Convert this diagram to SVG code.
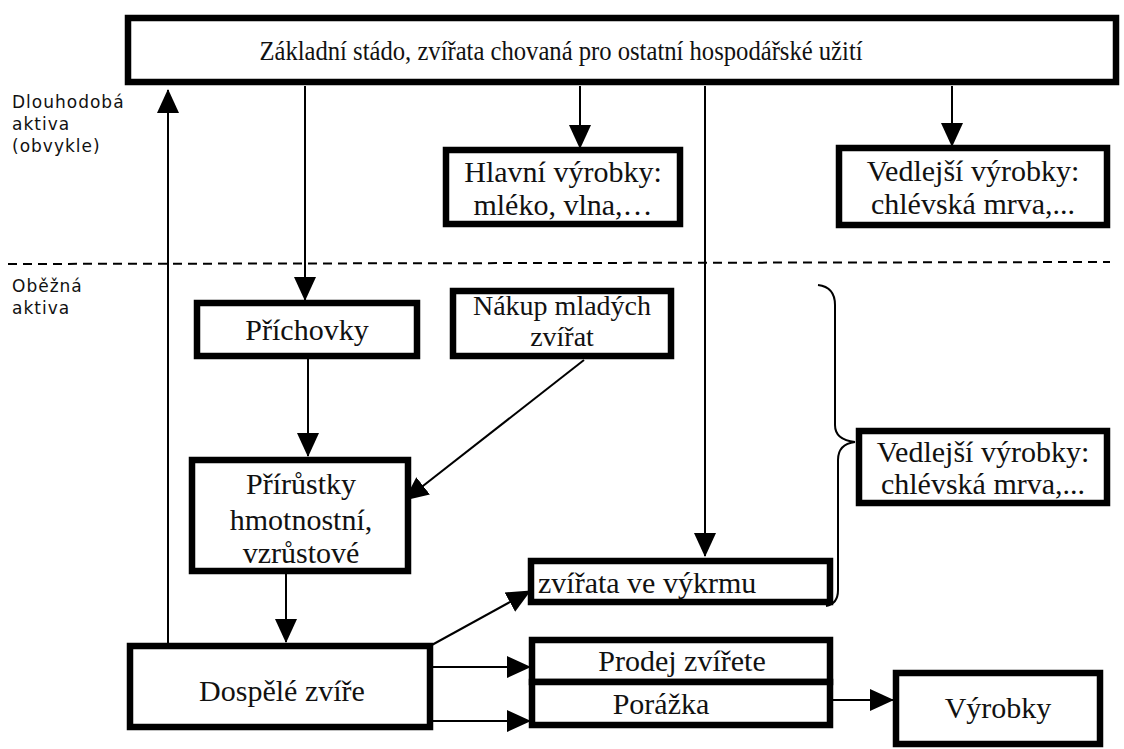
<svg xmlns="http://www.w3.org/2000/svg" width="1124" height="749" viewBox="0 0 1124 749">
<defs>
<style>
.box{fill:#fff;stroke:#000;stroke-width:6.5}
.t{font-family:"Liberation Serif","Times New Roman","DejaVu Serif",serif;font-size:30px;fill:#111;text-anchor:middle}
.top{font-size:28px}
.sm{font-size:28px}
.lbl{font-family:"DejaVu Sans","Liberation Sans",sans-serif;font-size:17px;fill:#111;letter-spacing:1px}
.ln{stroke:#000;stroke-width:2;fill:none}
.dash{stroke:#000;stroke-width:2;stroke-dasharray:9,6;fill:none}
</style>
<marker id="ahb" markerWidth="24" markerHeight="24" viewBox="0 0 24 24" refX="23" refY="12" orient="auto" markerUnits="userSpaceOnUse">
<path d="M0,1 L24,12 L0,23 z" fill="#000"/>
</marker>
</defs>
<rect width="1124" height="749" fill="#fff"/>

<g id="labels">
<text class="lbl" x="12" y="108">Dlouhodobá</text>
<text class="lbl" x="12" y="130">aktiva</text>
<text class="lbl" x="12" y="152">(obvykle)</text>
<text class="lbl" x="12" y="292">Oběžná</text>
<text class="lbl" x="12" y="314">aktiva</text>
</g>

<g id="connectors">
<line class="dash" x1="8" y1="264" x2="1110" y2="262"/>
<line class="ln" x1="168" y1="645" x2="168" y2="90" marker-end="url(#ahb)"/>
<line class="ln" x1="305" y1="86" x2="305" y2="300" marker-end="url(#ahb)"/>
<line class="ln" x1="580" y1="86" x2="580" y2="148" marker-end="url(#ahb)"/>
<line class="ln" x1="705" y1="86" x2="705" y2="556" marker-end="url(#ahb)"/>
<line class="ln" x1="952" y1="86" x2="952" y2="146" marker-end="url(#ahb)"/>
<line class="ln" x1="308" y1="358" x2="308" y2="456" marker-end="url(#ahb)"/>
<line class="ln" x1="584" y1="360" x2="405" y2="500" marker-end="url(#ahb)"/>
<line class="ln" x1="286" y1="572" x2="286" y2="642" marker-end="url(#ahb)"/>
<line class="ln" x1="430" y1="646" x2="530" y2="591" marker-end="url(#ahb)"/>
<line class="ln" x1="432" y1="667" x2="530" y2="667" marker-end="url(#ahb)"/>
<line class="ln" x1="432" y1="721" x2="530" y2="721" marker-end="url(#ahb)"/>
<line class="ln" x1="832" y1="700" x2="893" y2="700" marker-end="url(#ahb)"/>
<path class="ln" d="M818,285 Q835,287 835,305 L835,425 Q835,440 855,442 Q838,444 838,460 L838,590 Q838,604 826,606"/>
</g>

<g id="zakladni">
<rect class="box" x="128" y="18" width="988" height="64"/>
<text class="t top" x="637.5" y="60" transform="scale(0.88,1)">Základní stádo, zvířata chovaná pro ostatní hospodářské užití</text>
</g>
<g id="hlavni">
<rect class="box" x="446" y="150" width="234" height="74"/>
<text class="t" x="563" y="182">Hlavní výrobky:</text>
<text class="t" x="563" y="215">mléko, vlna,…</text>
</g>
<g id="vedlejsi1">
<rect class="box" x="839" y="148" width="268" height="77"/>
<text class="t" x="973" y="181">Vedlejší výrobky:</text>
<text class="t" x="973" y="214">chlévská mrva,...</text>
</g>
<g id="prichovky">
<rect class="box" x="197" y="303" width="220" height="53"/>
<text class="t" x="307" y="340">Příchovky</text>
</g>
<g id="nakup">
<rect class="box" x="453" y="291" width="218" height="65"/>
<text class="t sm" x="562" y="315">Nákup mladých</text>
<text class="t sm" x="562" y="346">zvířat</text>
</g>
<g id="prirustky">
<rect class="box" x="192" y="460" width="216" height="111"/>
<text class="t" x="301" y="494">Přírůstky</text>
<text class="t" x="301" y="530">hmotnostní,</text>
<text class="t" x="301" y="563">vzrůstové</text>
</g>
<g id="vedlejsi2">
<rect class="box" x="859" y="431" width="248" height="72"/>
<text class="t" x="983" y="462">Vedlejší výrobky:</text>
<text class="t" x="983" y="494">chlévská mrva,...</text>
</g>
<g id="vykrm">
<rect class="box" x="531" y="561" width="299" height="41"/>
<text class="t" x="538" y="593" style="text-anchor:start">zvířata ve výkrmu</text>
</g>
<g id="dospele">
<rect class="box" x="130" y="646" width="300" height="81"/>
<text class="t" x="282" y="701">Dospělé zvíře</text>
</g>
<g id="prodej">
<rect class="box" x="532" y="640" width="298" height="42"/>
<text class="t" x="682" y="671">Prodej zvířete</text>
</g>
<g id="porazka">
<rect class="box" x="532" y="682" width="298" height="43"/>
<text class="t" x="661" y="714">Porážka</text>
</g>
<g id="vyrobky">
<rect class="box" x="896" y="673" width="204" height="71"/>
<text class="t" x="998" y="718">Výrobky</text>
</g>
</svg>
